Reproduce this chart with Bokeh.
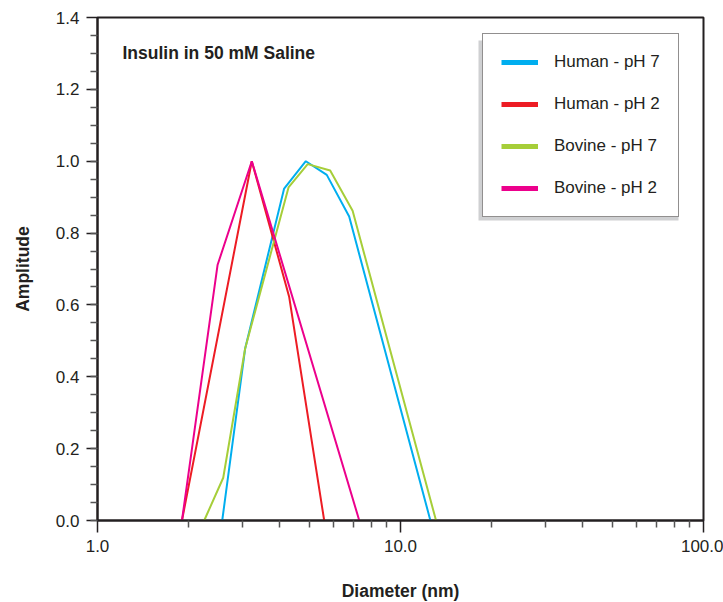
from bokeh.plotting import figure
from bokeh.models import (Range1d, FixedTicker, NumeralTickFormatter, Legend, LegendItem,
                          BoxAnnotation, Label)
from bokeh.embed import file_html
from bokeh.resources import INLINE

# ---- data ----
human_ph7_x = [2.58, 3.07, 4.13, 4.87, 5.71, 6.77, 12.55]
human_ph7_y = [0.0, 0.478, 0.924, 1.0, 0.962, 0.846, 0.0]
human_ph2_x = [1.90, 3.23, 4.29, 5.60]
human_ph2_y = [0.0, 1.0, 0.623, 0.0]
bovine_ph7_x = [2.25, 2.60, 3.07, 4.27, 4.94, 5.86, 6.95, 13.1]
bovine_ph7_y = [0.0, 0.119, 0.478, 0.927, 0.992, 0.974, 0.862, 0.0]
bovine_ph2_x = [1.90, 2.49, 3.23, 7.31]
bovine_ph2_y = [0.0, 0.711, 1.0, 0.0]

series_names = ["Human - pH 7", "Human - pH 2", "Bovine - pH 7", "Bovine - pH 2"]
series_colors = ["#00aeef", "#ed1c24", "#a6ce39", "#ec008c"]

x_major_ticks = [1, 10, 100]
x_minor_ticks = [2, 3, 4, 5, 6, 7, 8, 9, 20, 30, 40, 50, 60, 70, 80, 90]
y_major_ticks = [0.0, 0.2, 0.4, 0.6, 0.8, 1.0, 1.2, 1.4]
y_minor_ticks = [i * 0.05 for i in range(29)]

chart_title = "Insulin in 50 mM Saline"
x_label = "Diameter (nm)"
y_label = "Amplitude"

FONT = "'Liberation Sans Narrow', 'Arial Narrow', 'Liberation Sans', sans-serif"
DARK = "#231f20"
SHADOW = "#e3e4e5"

p = figure(x_axis_type="log", frame_width=606, frame_height=503,
           min_border_left=97, min_border_top=17, min_border_right=20, min_border_bottom=82,
           x_range=Range1d(1, 100), y_range=Range1d(0, 1.4),
           output_backend="svg", toolbar_location=None)
p.background_fill_color = "white"
p.border_fill_color = "white"
p.outline_line_color = DARK
p.outline_line_width = 2
p.grid.visible = False

def canvas_box(l, r, t, b, color):
    return BoxAnnotation(left=l, right=r, top=t, bottom=b,
                         left_units="canvas", right_units="canvas",
                         top_units="canvas", bottom_units="canvas",
                         fill_color=color, fill_alpha=1, line_alpha=0, level="underlay")

# frame drop-shadow strips (left and bottom)
p.add_layout(canvas_box(90, 97, 24, 527, SHADOW))
p.add_layout(canvas_box(90, 696, 520, 527, SHADOW))

xs = [human_ph7_x, human_ph2_x, bovine_ph7_x, bovine_ph2_x]
ys = [human_ph7_y, human_ph2_y, bovine_ph7_y, bovine_ph2_y]
items = []
for xv, yv, c, name in zip(xs, ys, series_colors, series_names):
    p.line(xv, yv, line_color=c, line_width=2)
    # one-point proxy (draws nothing) so the legend swatch can be thicker
    proxy = p.line(x=xv[:1], y=yv[:1], line_color=c, line_width=5)
    items.append(LegendItem(label=name, renderers=[proxy]))

# axes
for ax in (p.xaxis[0], p.yaxis[0]):
    ax.axis_line_color = DARK
    ax.axis_line_width = 2
    ax.major_tick_line_color = DARK
    ax.major_tick_line_width = 1.5
    ax.minor_tick_line_color = "#555555"
    ax.minor_tick_line_width = 1.5
    ax.major_tick_in = 0
    ax.minor_tick_in = 0
    ax.major_label_text_font = FONT
    ax.major_label_text_font_size = "17px"
    ax.major_label_text_color = DARK
    ax.axis_label_text_font = FONT
    ax.axis_label_text_font_size = "17.5px"
    ax.axis_label_text_font_style = "bold"
    ax.axis_label_text_color = DARK
    ax.formatter = NumeralTickFormatter(format="0.0")

p.xaxis[0].ticker = FixedTicker(ticks=x_major_ticks, minor_ticks=x_minor_ticks)
p.yaxis[0].ticker = FixedTicker(ticks=y_major_ticks, minor_ticks=y_minor_ticks)
p.xaxis[0].major_tick_out = 12
p.xaxis[0].minor_tick_out = 7
p.yaxis[0].major_tick_out = 11
p.yaxis[0].minor_tick_out = 7
p.xaxis[0].major_label_standoff = 7
p.yaxis[0].major_label_standoff = 7
p.xaxis[0].axis_label = x_label
p.yaxis[0].axis_label = y_label
p.xaxis[0].axis_label_standoff = 26
p.yaxis[0].axis_label_standoff = 20

# title inside plot
p.add_layout(Label(x=25, y=468, x_units="screen", y_units="screen", text=chart_title,
                   text_font=FONT, text_font_size="17.5px", text_font_style="bold",
                   text_color=DARK, text_baseline="middle"))

# legend shadow
p.add_layout(canvas_box(478, 678, 40, 220, "#cfd0d2"))

legend = Legend(items=items, location=(385, 303))
legend.border_line_color = DARK
legend.border_line_width = 1.5
legend.background_fill_color = "white"
legend.background_fill_alpha = 1
legend.padding = 18
legend.margin = 0
legend.spacing = 22
legend.glyph_width = 37
legend.glyph_height = 20
legend.label_height = 20
legend.label_standoff = 16
legend.label_text_font = FONT
legend.label_text_font_size = "17px"
legend.label_text_color = DARK
p.add_layout(legend)

open("out.html", "w").write(file_html(p, INLINE))
